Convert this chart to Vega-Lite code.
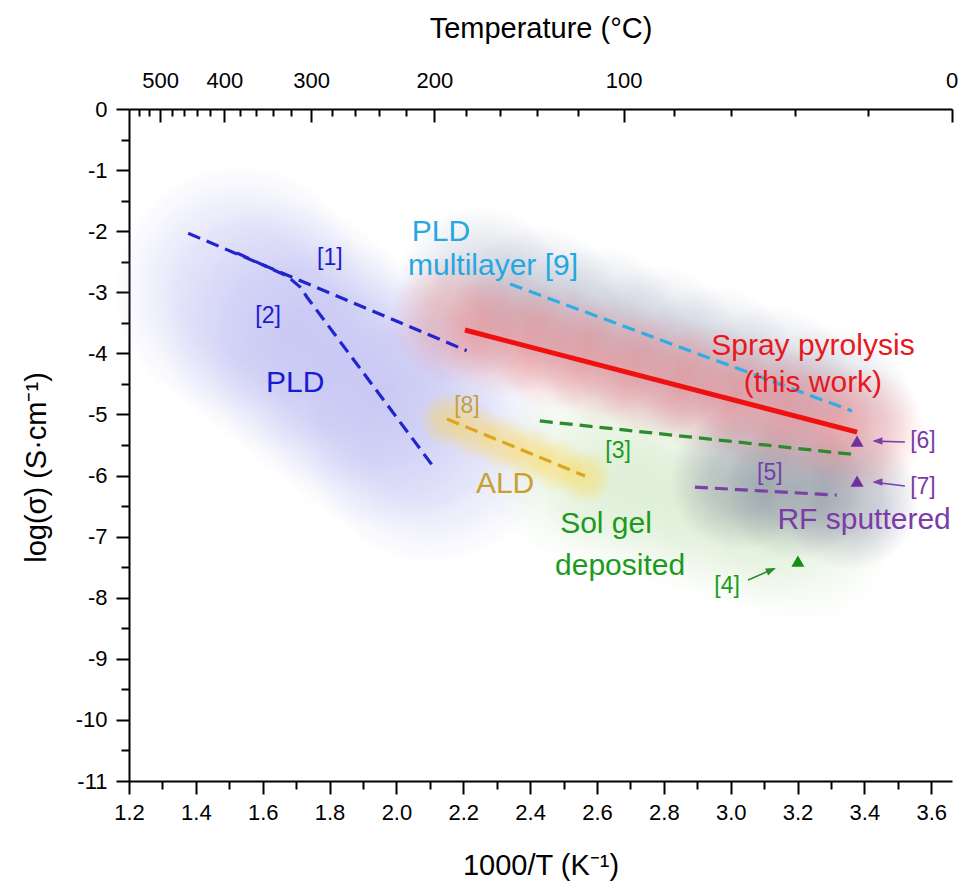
{
  "$schema": "https://vega.github.io/schema/vega-lite/v6.json",
  "width": 823,
  "height": 672,
  "autosize": {"type": "none"},
  "padding": {"left": 129, "top": 109, "right": 11, "bottom": 109},
  "background": "white",
  "config": {
    "view": {"stroke": null},
    "font": "Liberation Sans",
    "axis": {
      "labelFont": "Liberation Sans",
      "titleFont": "Liberation Sans",
      "grid": false,
      "domainColor": "black",
      "tickColor": "black",
      "domainWidth": 2,
      "tickWidth": 2,
      "labelColor": "black",
      "titleColor": "black",
      "labelFontSize": 22,
      "titleFontSize": 29,
      "titleFontWeight": "normal",
      "labelOverlap": false,
      "labelBound": false,
      "labelFlush": false
    }
  },
  "resolve": {"scale": {"x": "independent"}},
  "layer": [
    {
      "encoding": {
        "x": {
          "field": "x",
          "type": "quantitative",
          "scale": {"domain": [1.2, 3.662], "nice": false, "zero": false},
          "axis": {
            "orient": "bottom",
            "values": [1.2,1.3,1.4,1.5,1.6,1.7,1.8,1.9,2.0,2.1,2.2,2.3,2.4,2.5,2.6,2.7,2.8,2.9,3.0,3.1,3.2,3.3,3.4,3.5,3.6],
            "labelExpr": "round(datum.value*10) % 2 == 0 ? format(datum.value, '.1f') : ''",
            "tickSize": {"condition": {"test": "round(datum.value*10) % 2 == 0", "value": 13}, "value": 8},
            "labelPadding": 8,
            "title": "1000/T (K⁻¹)",
            "titlePadding": 28
          }
        },
        "y": {
          "field": "y",
          "type": "quantitative",
          "scale": {"domain": [-11, 0], "nice": false, "zero": false},
          "axis": {
            "values": [0,-0.5,-1,-1.5,-2,-2.5,-3,-3.5,-4,-4.5,-5,-5.5,-6,-6.5,-7,-7.5,-8,-8.5,-9,-9.5,-10,-10.5,-11],
            "labelExpr": "datum.value % 1 == 0 ? '' + datum.value : ''",
            "tickSize": {"condition": {"test": "datum.value % 1 == 0", "value": 13}, "value": 8},
            "labelPadding": 9,
            "title": "log(σ) (S·cm⁻¹)",
            "titlePadding": 24,
            "titleY": 358
          }
        }
      },
      "layer": [
        {
          "data": {"values": [
            {"x": 1.532, "y": -2.963}, {"x": 1.674, "y": -3.569}, {"x": 1.816, "y": -4.174}, {"x": 1.958, "y": -4.780}, {"x": 2.100, "y": -5.386}
          ]},
          "mark": {"type": "point", "shape": "circle", "size": 64000, "filled": true, "opacity": 1, "strokeWidth": 0,
            "fill": {"gradient": "radial", "x1": 0.5, "y1": 0.5, "r1": 0, "x2": 0.5, "y2": 0.5, "r2": 0.5,
              "stops": [{"offset": 0, "color": "rgba(180,180,240,0.36)"}, {"offset": 0.5, "color": "rgba(180,180,240,0.32)"}, {"offset": 1, "color": "rgba(180,180,240,0)"}]}}
        },
        {
          "data": {"values": [
            {"x": 2.549, "y": -5.909}, {"x": 2.714, "y": -6.155}, {"x": 2.878, "y": -6.400}, {"x": 3.043, "y": -6.646}, {"x": 3.207, "y": -6.892}
          ]},
          "mark": {"type": "point", "shape": "circle", "size": 36100, "filled": true, "opacity": 1, "strokeWidth": 0,
            "fill": {"gradient": "radial", "x1": 0.5, "y1": 0.5, "r1": 0, "x2": 0.5, "y2": 0.5, "r2": 0.5,
              "stops": [{"offset": 0, "color": "rgba(195,225,180,0.3)"}, {"offset": 0.45, "color": "rgba(195,225,180,0.25)"}, {"offset": 1, "color": "rgba(195,225,180,0)"}]}}
        },
        {
          "data": {"values": [
            {"x": 2.250, "y": -2.963}, {"x": 2.424, "y": -3.290}, {"x": 2.599, "y": -3.618}, {"x": 2.773, "y": -3.945}, {"x": 2.948, "y": -4.272}, {"x": 3.123, "y": -4.600}, {"x": 3.297, "y": -4.927}
          ]},
          "mark": {"type": "point", "shape": "circle", "size": 28900, "filled": true, "opacity": 1, "strokeWidth": 0,
            "fill": {"gradient": "radial", "x1": 0.5, "y1": 0.5, "r1": 0, "x2": 0.5, "y2": 0.5, "r2": 0.5,
              "stops": [{"offset": 0, "color": "rgba(140,150,178,0.32)"}, {"offset": 0.45, "color": "rgba(140,150,178,0.26)"}, {"offset": 1, "color": "rgba(140,150,178,0)"}]}}
        },
        {
          "data": {"values": [
            {"x": 3.028, "y": -6.073}, {"x": 3.192, "y": -6.237}, {"x": 3.357, "y": -6.400}
          ]},
          "mark": {"type": "point", "shape": "circle", "size": 19600, "filled": true, "opacity": 1, "strokeWidth": 0,
            "fill": {"gradient": "radial", "x1": 0.5, "y1": 0.5, "r1": 0, "x2": 0.5, "y2": 0.5, "r2": 0.5,
              "stops": [{"offset": 0, "color": "rgba(110,115,142,0.4)"}, {"offset": 0.45, "color": "rgba(110,115,142,0.32)"}, {"offset": 1, "color": "rgba(110,115,142,0)"}]}}
        },
        {
          "data": {"values": [
            {"x": 2.175, "y": -3.454}, {"x": 2.327, "y": -3.679}, {"x": 2.478, "y": -3.904}, {"x": 2.630, "y": -4.129}, {"x": 2.781, "y": -4.354}, {"x": 2.932, "y": -4.579}, {"x": 3.084, "y": -4.804}, {"x": 3.235, "y": -5.029}, {"x": 3.387, "y": -5.255}
          ]},
          "mark": {"type": "point", "shape": "circle", "size": 16900, "filled": true, "opacity": 1, "strokeWidth": 0,
            "fill": {"gradient": "radial", "x1": 0.5, "y1": 0.5, "r1": 0, "x2": 0.5, "y2": 0.5, "r2": 0.5,
              "stops": [{"offset": 0, "color": "rgba(242,105,105,0.33)"}, {"offset": 0.45, "color": "rgba(242,105,105,0.26)"}, {"offset": 1, "color": "rgba(242,105,105,0)"}]}}
        },
        {
          "data": {"values": [
            {"x": 2.151, "y": -5.091}, {"x": 2.234, "y": -5.277}, {"x": 2.316, "y": -5.464}, {"x": 2.399, "y": -5.651}, {"x": 2.481, "y": -5.837}, {"x": 2.564, "y": -6.024}
          ]},
          "mark": {"type": "point", "shape": "circle", "size": 3136, "filled": true, "opacity": 1, "strokeWidth": 0,
            "fill": {"gradient": "radial", "x1": 0.5, "y1": 0.5, "r1": 0, "x2": 0.5, "y2": 0.5, "r2": 0.5,
              "stops": [{"offset": 0, "color": "rgba(255,212,70,0.45)"}, {"offset": 0.45, "color": "rgba(255,212,70,0.35)"}, {"offset": 1, "color": "rgba(255,212,70,0)"}]}}
        },
        {
          "data": {"values": [
            {"s": "1", "g": "pld", "o": 0, "x": 1.377, "y": -2.035},
            {"s": "1", "g": "pld", "o": 1, "x": 2.210, "y": -3.956},
            {"s": "2", "g": "pld", "o": 0, "x": 1.523, "y": -2.357},
            {"s": "2", "g": "pld", "o": 1, "x": 1.673, "y": -2.734},
            {"s": "2", "g": "pld", "o": 2, "x": 1.712, "y": -2.914},
            {"s": "2", "g": "pld", "o": 3, "x": 1.732, "y": -3.077},
            {"s": "2", "g": "pld", "o": 4, "x": 2.109, "y": -5.844},
            {"s": "9", "g": "multi", "o": 0, "x": 2.340, "y": -2.865},
            {"s": "9", "g": "multi", "o": 1, "x": 3.363, "y": -4.943},
            {"s": "3", "g": "sol", "o": 0, "x": 2.429, "y": -5.106},
            {"s": "3", "g": "sol", "o": 1, "x": 3.360, "y": -5.650},
            {"s": "8", "g": "ald", "o": 0, "x": 2.151, "y": -5.074},
            {"s": "8", "g": "ald", "o": 1, "x": 2.564, "y": -6.007},
            {"s": "5", "g": "rf", "o": 0, "x": 2.893, "y": -6.190},
            {"s": "5", "g": "rf", "o": 1, "x": 3.317, "y": -6.320}
          ]},
          "mark": {"type": "line", "strokeWidth": 3.2, "strokeDash": [13, 7]},
          "encoding": {
            "detail": {"field": "s"},
            "order": {"field": "o", "type": "quantitative"},
            "stroke": {"field": "g", "type": "nominal", "legend": null,
              "scale": {"domain": ["pld", "multi", "spray", "ald", "sol", "rf"], "range": ["#2424cc", "#2eaee6", "#ff1010", "#dca51c", "#2e8a2e", "#7a40a8"]}}
          }
        },
        {
          "data": {"values": [
            {"x": 2.205, "y": -3.618},
            {"x": 3.378, "y": -5.288}
          ]},
          "mark": {"type": "line", "strokeWidth": 5, "color": "#f01010"},
          "encoding": {}
        },
        {
          "data": {"values": [
            {"g": "rf", "x": 3.521, "y": -5.451, "x2": 3.430, "y2": -5.436},
            {"g": "rf", "x": 3.521, "y": -6.171, "x2": 3.430, "y2": -6.110},
            {"g": "sol", "x": 3.052, "y": -7.710, "x2": 3.130, "y2": -7.525}
          ]},
          "mark": {"type": "rule", "strokeWidth": 1.6},
          "encoding": {
            "x2": {"field": "x2"},
            "y2": {"field": "y2"},
            "stroke": {"field": "g", "type": "nominal", "legend": null}
          }
        },
        {
          "data": {"values": [
            {"x": 3.424, "y": -5.435},
            {"x": 3.424, "y": -6.105}
          ]},
          "mark": {"type": "point", "shape": "M 0 0 L 1 -0.38 L 1 0.38 Z", "size": 400, "filled": true, "opacity": 1, "strokeWidth": 0, "fill": "#7a40a8"}
        },
        {
          "data": {"values": [
            {"x": 3.135, "y": -7.514}
          ]},
          "mark": {"type": "point", "shape": "M 0 0 L 1 -0.38 L 1 0.38 Z", "size": 400, "angle": 157, "filled": true, "opacity": 1, "strokeWidth": 0, "fill": "#2e8a2e"}
        },
        {
          "data": {"values": [
            {"r": "[6]", "g": "rf", "x": 3.378, "y": -5.435},
            {"r": "[7]", "g": "rf", "x": 3.378, "y": -6.090},
            {"r": "[4]", "g": "sol", "x": 3.201, "y": -7.400}
          ]},
          "mark": {"type": "point", "shape": "triangle-up", "size": 170, "filled": true, "opacity": 1, "strokeWidth": 0},
          "encoding": {
            "fill": {"field": "g", "type": "nominal", "legend": null,
              "scale": {"domain": ["rf", "sol"], "range": ["#7030a0", "#139013"]}}
          }
        },
        {
          "data": {"values": [
            {"t": "PLD", "g": "pld", "x": 1.697, "y": -4.485},
            {"t": "PLD", "g": "multi", "x": 2.133, "y": -2.013},
            {"t": "multilayer [9]", "g": "multi", "x": 2.289, "y": -2.570},
            {"t": "ALD", "g": "ald", "x": 2.325, "y": -6.138},
            {"t": "Sol gel", "g": "sol", "x": 2.627, "y": -6.793},
            {"t": "deposited", "g": "sol", "x": 2.669, "y": -7.481},
            {"t": "Spray pyrolysis", "g": "spray", "x": 3.246, "y": -3.880},
            {"t": "(this work)", "g": "spray", "x": 3.246, "y": -4.485},
            {"t": "RF sputtered", "g": "rf", "x": 3.399, "y": -6.728}
          ]},
          "mark": {"type": "text", "fontSize": 30, "align": "center", "baseline": "middle"},
          "encoding": {
            "text": {"field": "t"},
            "color": {"field": "g", "type": "nominal", "legend": null,
              "scale": {"domain": ["pld", "multi", "spray", "ald", "sol", "rf"], "range": ["#1a1ad0", "#25a8e0", "#e81820", "#c8a030", "#1c9a1c", "#7a3ca6"]}}
          }
        },
        {
          "data": {"values": [
            {"t": "[1]", "g": "pld", "x": 1.801, "y": -2.439},
            {"t": "[2]", "g": "pld", "x": 1.616, "y": -3.388},
            {"t": "[8]", "g": "ald", "x": 2.211, "y": -4.862},
            {"t": "[3]", "g": "sol", "x": 2.663, "y": -5.598},
            {"t": "[4]", "g": "sol", "x": 2.989, "y": -7.808},
            {"t": "[5]", "g": "rf", "x": 3.117, "y": -5.959},
            {"t": "[6]", "g": "rf", "x": 3.575, "y": -5.435},
            {"t": "[7]", "g": "rf", "x": 3.575, "y": -6.188}
          ]},
          "mark": {"type": "text", "fontSize": 23, "align": "center", "baseline": "middle"},
          "encoding": {
            "text": {"field": "t"},
            "color": {"field": "g", "type": "nominal", "legend": null}
          }
        }
      ]
    },
    {
      "data": {"values": [{"x": 1.2}]},
      "mark": {"type": "point", "opacity": 0},
      "encoding": {
        "x": {
          "field": "x",
          "type": "quantitative",
          "scale": {"domain": [1.2, 3.662], "nice": false, "zero": false},
          "axis": {
            "orient": "top",
            "values": [1.22978,1.26080,1.29341,1.32776,1.36398,1.40223,1.44269,1.48555,1.53104,1.57941,1.63092,1.68591,1.74474,1.80783,1.87565,1.94875,2.02778,2.11349,2.20677,2.30867,2.42043,2.54356,2.67989,2.83166,3.00165,3.19336,3.41122,3.66099],
            "labelExpr": "round(1000/datum.value - 273.15) % 100 == 0 ? '' + round(1000/datum.value - 273.15) : ''",
            "tickSize": {"condition": {"test": "round(1000/datum.value - 273.15) % 100 == 0", "value": -13}, "value": -7},
            "labelPadding": 30,
            "title": "Temperature (°C)",
            "titlePadding": 20
          }
        }
      }
    }
  ]
}
